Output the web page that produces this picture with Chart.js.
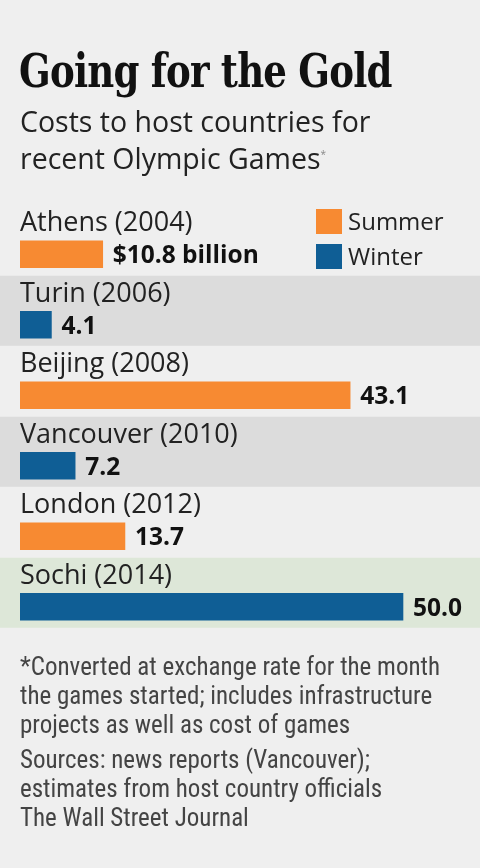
<!DOCTYPE html>
<html>
<head>
<meta charset="utf-8">
<script src="https://cdn.jsdelivr.net/npm/chart.js@4.4.1/dist/chart.umd.min.js"></script>
<style>
  html, body { margin: 0; padding: 0; }
  body { width: 480px; height: 868px; background: #efefef; position: relative; overflow: hidden; font-family: 'Open Sans', sans-serif; color: #222; }
  .title { position: absolute; left: 19px; top: 43px; font-family: 'DejaVu Serif', serif; font-weight: bold; font-size: 47px; letter-spacing: -1px; color: #111; white-space: nowrap; transform: scaleX(0.79); transform-origin: left top; }
  .sub { position: absolute; left: 20px; top: 105px; font-size: 28.5px; line-height: 33px; color: #222; }
  .sub sup { font-size: 10px; color: #888; }
  .legend { position: absolute; left: 316px; top: 203px; font-size: 24px; line-height: 35px; color: #222; }
  .legend span.sw { display: inline-block; width: 26px; height: 25px; vertical-align: -4px; margin-right: 6px; }
  .note { position: absolute; left: 20px; top: 652px; font-family: 'Liberation Sans Narrow', 'Roboto Condensed', sans-serif; font-size: 25px; line-height: 29px; color: #444; width: 460px; white-space: nowrap; }
  .note p { margin: 0 0 6px 0; }
  #wrap { position: absolute; left: 0; top: 0; width: 480px; height: 868px; }
</style>
</head>
<body>
<div id="wrap"><canvas id="gold-canvas"></canvas></div>
<div class="title">Going for the Gold</div>
<div class="sub">Costs to host countries for<br>recent Olympic Games<sup>*</sup></div>
<div class="legend">
  <div><span class="sw" style="background:#f78a32"></span>Summer</div>
  <div><span class="sw" style="background:#0f5e95"></span>Winter</div>
</div>
<div class="note">
  <p>*Converted at exchange rate for the month<br>the games started; includes infrastructure<br>projects as well as cost of games</p>
  <p>Sources: news reports (Vancouver);<br>estimates from host country officials<br>The Wall Street Journal</p>
</div>
<script>
const games = ['Athens (2004)', 'Turin (2006)', 'Beijing (2008)', 'Vancouver (2010)', 'London (2012)', 'Sochi (2014)'];
const costs = [10.8, 4.1, 43.1, 7.2, 13.7, 50.0];
const seasons = ['Summer', 'Winter', 'Summer', 'Winter', 'Summer', 'Winter'];
const valueLabels = ['$10.8 billion', '4.1', '43.1', '7.2', '13.7', '50.0'];

const seasonColor = { Summer: '#f78a32', Winter: '#0f5e95' };

// band behind each row; Sochi gets the green highlight
function bandColor(i) {
  if (i === games.length - 1) return '#dde7d8';
  return i % 2 === 1 ? '#dcdcdc' : '#efefef';
}

const rowDecor = {
  id: 'rowDecor',
  beforeDatasetsDraw(chart) {
    const { ctx, scales: { y } } = chart;
    ctx.save();
    games.forEach((g, i) => {
      const c = y.getPixelForValue(i);
      ctx.fillStyle = bandColor(i);
      ctx.fillRect(0, c - 49, chart.width, 70);
    });
    ctx.restore();
  },
  afterDatasetsDraw(chart) {
    const { ctx, scales: { y } } = chart;
    const meta = chart.getDatasetMeta(0);
    ctx.save();
    ctx.textBaseline = 'alphabetic';
    games.forEach((g, i) => {
      const c = y.getPixelForValue(i);
      ctx.fillStyle = '#222';
      ctx.font = '27px "Open Sans"';
      ctx.fillText(g, 20, c - 23);
      const bar = meta.data[i];
      ctx.fillStyle = '#111';
      ctx.font = 'bold 24.5px "Open Sans"';
      ctx.fillText(valueLabels[i], bar.x + 10, c + 9);
    });
    ctx.restore();
  }
};

new Chart(document.getElementById('gold-canvas'), {
  type: 'bar',
  data: {
    labels: games,
    datasets: [{
      data: costs,
      backgroundColor: seasons.map(s => seasonColor[s]),
      barThickness: 27,
      borderWidth: 0,
    }]
  },
  options: {
    indexAxis: 'y',
    responsive: true,
    maintainAspectRatio: false,
    animation: false,
    layout: { padding: { left: 20, right: 10, top: 219, bottom: 226 } },
    scales: {
      x: { display: false, min: 0, max: 58.75 },
      y: { display: false }
    },
    plugins: {
      legend: { display: false },
      tooltip: { enabled: false }
    }
  },
  plugins: [rowDecor]
});
</script>
</body>
</html>
